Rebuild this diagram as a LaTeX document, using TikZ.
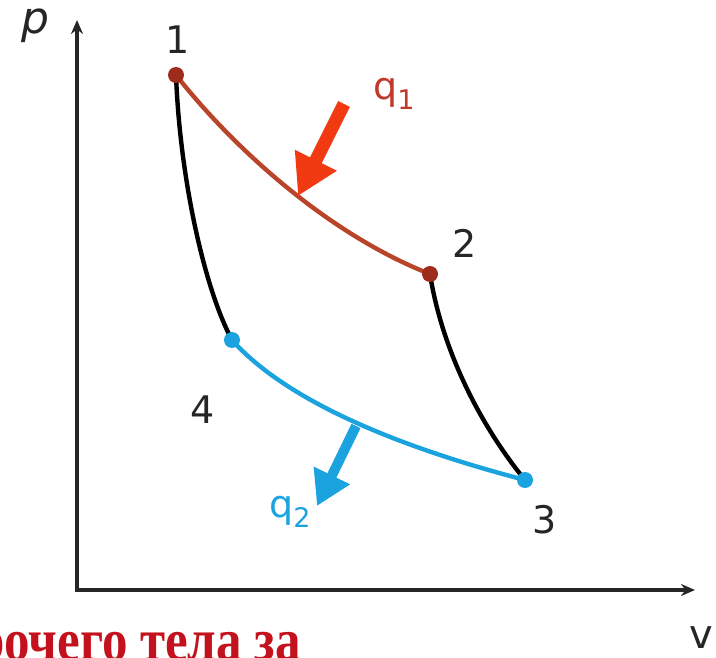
\documentclass[tikz,border=0pt]{standalone}
\usepackage{fontspec}
\setmainfont{DejaVu Sans}
\newfontfamily\serifbold{Liberation Serif}
\usetikzlibrary{arrows.meta}
\definecolor{hotred}{HTML}{B8452A}
\definecolor{dotred}{HTML}{9E2C1C}
\definecolor{arrred}{HTML}{F23A12}
\definecolor{qred}{HTML}{C0392B}
\definecolor{cyanb}{HTML}{1AA3DE}
\definecolor{capred}{HTML}{C3121E}
\tikzset{
  axis/.style={line width=3.2pt, draw=black!85, -{Stealth[length=14pt,width=12pt]}},
  curve/.style={line width=4.4pt, line cap=round},
  ptdot/.style={circle, inner sep=0pt, minimum size=16pt},
  numlab/.style={font=\fontsize{38}{40}\selectfont, text=black!85},
  qlab/.style={font=\fontsize{38}{40}\selectfont},
}
\begin{document}
\begin{tikzpicture}[x=1pt,y=-1pt]
\useasboundingbox (0,0) rectangle (716,658);
\clip (0,0) rectangle (716,658);
% axes
\coordinate (O) at (77,590);
\coordinate (Ytip) at (77,20);
\coordinate (Xtip) at (695,590);
\draw[axis] (O) -- (Ytip);
\draw[axis, shorten <=-1.6pt] (O) -- (Xtip);
\node[font=\fontsize{44}{44}\selectfont\itshape, text=black!85] (plab) at (35,26) {p};
\node[font=\fontsize{40}{40}\selectfont, text=black!85] (vlab) at (701,638) {v};
% points
\coordinate (P1) at (176,75);
\coordinate (P2) at (430,274);
\coordinate (P3) at (525,480);
\coordinate (P4) at (232,340);
% curves
\draw[curve, draw=black] (P1) .. controls (180,180) and (205,290) .. (P4);
\draw[curve, draw=black] (P2) .. controls (442,350) and (480,425) .. (P3);
\draw[curve, draw=hotred] (P1) .. controls (235,150) and (330,235) .. (P2);
\draw[curve, draw=cyanb] (P4) .. controls (290,405) and (410,450) .. (P3);
% dots
\node[ptdot, fill=dotred] (d1) at (P1) {};
\node[ptdot, fill=dotred] (d2) at (P2) {};
\node[ptdot, fill=cyanb] (d3) at (P3) {};
\node[ptdot, fill=cyanb] (d4) at (P4) {};
% labels
\node[numlab] (l1) at (178,40) {1};
\node[numlab] (l2) at (465,243) {2};
\node[numlab] (l3) at (545,520) {3};
\node[numlab] (l4) at (203,410) {4};
% heat arrows
\coordinate (q1s) at (344,104);
\coordinate (q1e) at (298,196);
\draw[line width=13pt, draw=arrred, fill=arrred, -{Triangle[length=40pt,width=44pt]}] (q1s) -- (q1e);
\coordinate (q2s) at (356,426);
\coordinate (q2e) at (317,506);
\draw[line width=10pt, draw=cyanb, fill=cyanb, -{Triangle[length=34pt,width=38pt]}] (q2s) -- (q2e);
\node[qlab, text=qred] (q1) at (394,94) {q\raisebox{-0.25em}{\fontsize{27}{27}\selectfont 1}};
\node[qlab, text=cyanb] (q2) at (290,512) {q\raisebox{-0.25em}{\fontsize{27}{27}\selectfont 2}};
% bottom text
\node[anchor=base west, inner sep=0pt, xscale=0.85, text=capred, font=\serifbold\bfseries\fontsize{60}{60}\selectfont] (cap) at (-24,660) {рочего тела за};
\end{tikzpicture}
\end{document}
